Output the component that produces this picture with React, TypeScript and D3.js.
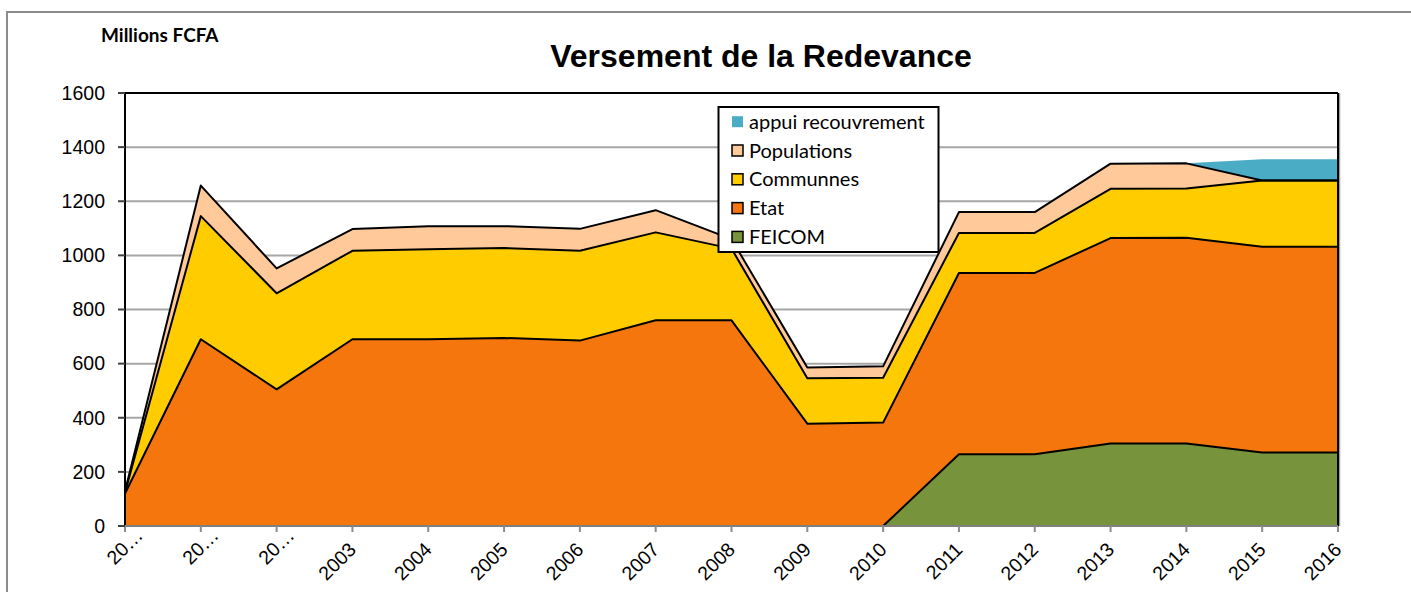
import React from "react";
import * as d3 from "d3";

const years = ["20…", "20…", "20…", "2003", "2004", "2005", "2006", "2007", "2008", "2009", "2010", "2011", "2012", "2013", "2014", "2015", "2016"];
const feicom = [0, 0, 0, 0, 0, 0, 0, 0, 0, 0, 0, 265, 265, 305, 305, 272, 272];
const etat = [120, 690, 505, 690, 690, 695, 685, 760, 760, 378, 382, 670, 670, 759, 760, 760, 760];
const communnes = [4, 455, 355, 327, 333, 332, 332, 325, 265, 168, 166, 148, 148, 182, 182, 245, 245];
const populations = [4, 113, 92, 80, 85, 81, 81, 82, 35, 40, 42, 77, 77, 93, 93, 0, 0];
const appui = [0, 0, 0, 0, 0, 0, 0, 0, 0, 0, 0, 0, 0, 0, 0, 78, 78];
const yTicks = [0, 200, 400, 600, 800, 1000, 1200, 1400, 1600];

const seriesNames = ["FEICOM", "Etat", "Communnes", "Populations", "appui recouvrement"];
const seriesValues = [feicom, etat, communnes, populations, appui];
const seriesColors = ["#77933C", "#F4760C", "#FFCC00", "#FFC999", "#4BACC6"];
const seriesStroked = [true, true, true, true, false];

export default function App() {
  const W = 1411, H = 592;
  const left = 125, right = 1338, top = 93, bottom = 526;
  const x = d3.scaleLinear().domain([0, years.length - 1]).range([left, right]);
  const y = d3.scaleLinear().domain([0, 1600]).range([bottom, top]);

  const rows = years.map((_, i) => {
    const r: any = { i };
    seriesNames.forEach((n, k) => (r[n] = seriesValues[k][i]));
    return r;
  });
  const stack = d3.stack<any>().keys(seriesNames)(rows);
  const area = d3.area<any>().x((d) => x(d.data.i)).y0((d) => y(d[0])).y1((d) => y(d[1]));
  const topLine = d3.line<any>().x((d) => x(d.data.i)).y((d) => y(d[1]));

  const arial = "'Liberation Sans', Arial, sans-serif";
  const calibri = "Lato, 'Noto Sans', sans-serif";

  const legendItems = [...seriesNames].reverse();
  const legendColors = [...seriesColors].reverse();

  return (
    <svg width={W} height={H} style={{ position: "absolute", left: 0, top: 0, background: "#fff" }}>
      <rect x={7} y={12} width={W} height={H} fill="#fff" stroke="#8c8c8c" strokeWidth={2} />
      <text x={101} y={42} fontFamily={calibri} fontWeight="bold" fontSize={19} fill="#000">Millions FCFA</text>
      <text x={761} y={67} textAnchor="middle" fontFamily={arial} fontWeight="bold" fontSize={32} fill="#000">Versement de la Redevance</text>

      {yTicks.slice(1, -1).map((t) => (
        <line key={"g" + t} x1={left} x2={right} y1={y(t)} y2={y(t)} stroke="#a6a6a6" strokeWidth={2} />
      ))}

      {stack.map((s, k) => (
        <path key={"a" + k} d={area(s) as string} fill={seriesColors[k]} stroke="none" />
      ))}
      {stack.map((s, k) =>
        seriesStroked[k] ? (
          <path key={"l" + k} d={topLine(s) as string} fill="none" stroke="#000" strokeWidth={2} strokeLinejoin="round" />
        ) : null
      )}

      {/* plot border */}
      <line x1={left} x2={right} y1={top} y2={top} stroke="#000" strokeWidth={2} />
      <line x1={right + 1.5} x2={right + 1.5} y1={top} y2={bottom} stroke="#a0a0a0" strokeWidth={1.5} />
      <line x1={right} x2={right} y1={top} y2={bottom} stroke="#000" strokeWidth={2} />
      <line x1={left} x2={left} y1={top} y2={bottom} stroke="#000" strokeWidth={2} />

      {/* x axis */}
      <line x1={left} x2={right} y1={bottom} y2={bottom} stroke="#7f7f7f" strokeWidth={2} />
      {years.map((yr, i) => (
        <line key={"xt" + i} x1={x(i)} x2={x(i)} y1={bottom} y2={bottom + 6} stroke="#8c8c8c" strokeWidth={2} />
      ))}
      {years.map((yr, i) => (
        <text
          key={"xl" + i}
          transform={`translate(${x(i) - 5},${bottom + 15}) rotate(-45)`}
          textAnchor="end"
          dx={yr.length < 4 ? 20 : 0}
          dy="0.71em"
          fontFamily={arial}
          fontSize={19.5}
          fill="#000"
        >
          {yr}
        </text>
      ))}

      {/* y axis */}
      {yTicks.map((t) => (
        <g key={"yt" + t}>
          <line x1={left - 7} x2={left} y1={y(t)} y2={y(t)} stroke="#404040" strokeWidth={2} />
          <text x={105} y={y(t)} dy="0.35em" textAnchor="end" fontFamily={arial} fontSize={19.5} fill="#000">{t}</text>
        </g>
      ))}

      {/* legend */}
      <rect x={718.5} y={107} width={220} height={145} fill="#fff" stroke="#000" strokeWidth={2} />
      {legendItems.map((n, j) => {
        const cy = 121.7 + j * 28.8;
        return (
          <g key={"lg" + j}>
            <rect x={732} y={cy - 5.5} width={11} height={11} fill={legendColors[j]} stroke={j === 0 ? "none" : "#000"} strokeWidth={1.5} />
            <text x={749} y={cy} dy="0.35em" fontFamily={calibri} fontSize={20} fill="#000">{n}</text>
          </g>
        );
      })}
    </svg>
  );
}
